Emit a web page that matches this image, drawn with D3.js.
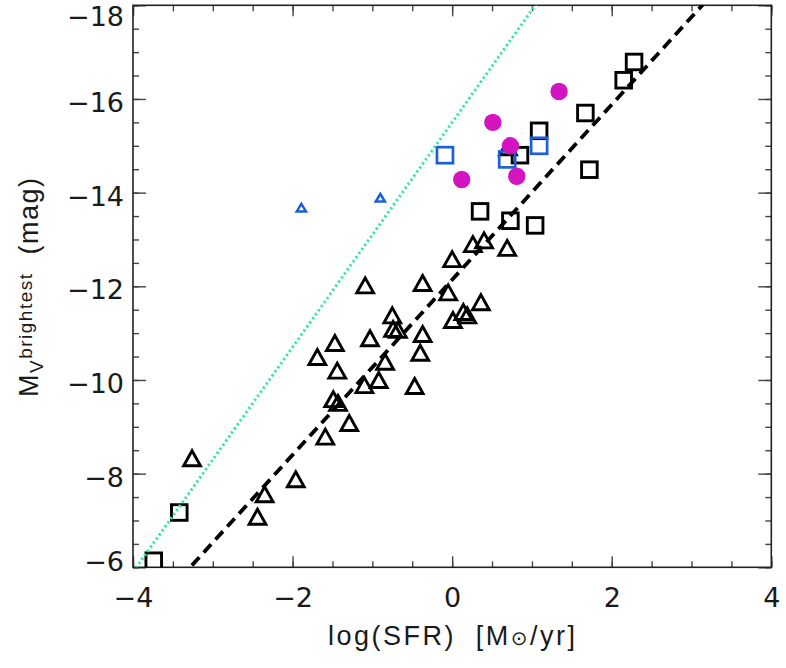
<!DOCTYPE html>
<html>
<head>
<meta charset="utf-8">
<script src="https://cdn.jsdelivr.net/npm/d3@7"></script>
<style>
  body { margin: 0; background: #fff; }
  svg { display: block; }
</style>
</head>
<body>
<svg id="chart"></svg>
<script>
// black triangles
let triSFR = [-3.26, -2.35, -2.44, -1.96, -1.59, -1.29, -1.49, -1.43, -1.69, -1.47, -1.44,
              -1.10, -0.92, -0.84, -1.03, -1.09, -0.75, -0.74, -0.68, -0.47, -0.40, -0.37,
              -0.37, -0.05, 0.00, 0.01, 0.14, 0.19, 0.36, 0.26, 0.40, 0.69, 0.70];
let triMag = [-8.33, -7.56, -7.08, -7.88, -8.79, -9.08, -9.59, -9.51, -10.49, -10.79, -10.20,
              -9.89, -10.00, -10.39, -10.89, -12.02, -11.38, -11.09, -11.07, -9.87, -10.58, -10.98,
              -12.07, -11.87, -12.58, -11.28, -11.45, -11.38, -11.66, -12.90, -12.98, -12.82, -14.97];

// black squares
let sqSFR = [-3.74, -3.42, 0.35, 0.73, 1.04, 0.85, 1.09, 1.67, 1.72, 2.15, 2.28];
let sqMag = [-6.14, -7.17, -13.60, -13.40, -13.30, -14.80, -15.32, -15.70, -14.49, -16.40, -16.79];

// blue squares
let blueSqSFR = [-0.09, 0.69, 1.09];
let blueSqMag = [-14.80, -14.71, -15.00];

// blue small triangles
let blueTriSFR = [-1.89, -0.90];
let blueTriMag = [-13.68, -13.89];

// magenta dots
let dotSFR = [1.34, 0.51, 0.73, 0.12, 0.81];
let dotMag = [-16.16, -15.50, -15.00, -14.28, -14.35];

// relations: M = slope * log(SFR) + zero
let fitSlope = -1.87, fitZero = -12.14;
let upperSlope = -2.40, upperZero = -15.50;

let xTicks = [-4, -2, 0, 2, 4];
let yTicks = [-18, -16, -14, -12, -10, -8, -6];

let svgWidth = 786, svgHeight = 668;
let margin = {top: 5.3, right: 14.7, bottom: 100.7, left: 133};
let width = svgWidth - margin.left - margin.right,
    height = svgHeight - margin.top - margin.bottom;

let x = d3.scaleLinear().domain([-4, 4]).range([0, width]),
    y = d3.scaleLinear().domain([-6, -18]).range([height, 0]);

let minorX = d3.range(-4, 4.01, 0.5), minorY = d3.range(-18, -5.99, 0.5);

let svg = d3.select("#chart")
    .attr("width", svgWidth)
    .attr("height", svgHeight);

let g = svg.append("g")
    .attr("transform", "translate(" + margin.left + "," + margin.top + ")");

g.append("clipPath")
    .attr("id", "plot-clip")
  .append("rect")
    .attr("width", width)
    .attr("height", height);

let titleFont = "'Liberation Sans', Arial, sans-serif";
let tickFont = "'DejaVu Sans', sans-serif";
let fmt = function(d) { return d < 0 ? "\u2212" + Math.abs(d) : "" + d; };

function styleAxis(sel) {
    sel.select(".domain").remove();
    sel.selectAll("line").attr("stroke", "#444").attr("stroke-width", 1.4);
    sel.selectAll("text")
        .attr("font-family", tickFont)
        .attr("font-size", "27px")
        .attr("fill", "#1a1a1a");
}

// bottom axis
g.append("g").attr("transform", "translate(0," + height + ")")
    .call(d3.axisBottom(x).tickValues(minorX).tickSize(-6).tickFormat(""))
    .call(styleAxis);
g.append("g").attr("transform", "translate(0," + height + ")")
    .call(d3.axisBottom(x).tickValues(xTicks).tickSize(-11).tickPadding(21).tickFormat(fmt))
    .call(styleAxis);

// top axis
g.append("g")
    .call(d3.axisTop(x).tickValues(minorX).tickSize(-6).tickFormat(""))
    .call(styleAxis);
g.append("g")
    .call(d3.axisTop(x).tickValues(xTicks).tickSize(-11).tickFormat(""))
    .call(styleAxis);

// left axis; end labels are pushed inside the frame like the original
g.append("g")
    .call(d3.axisLeft(y).tickValues(minorY).tickSize(-6).tickFormat(""))
    .call(styleAxis);
g.append("g")
    .call(d3.axisLeft(y).tickValues(yTicks).tickSize(-13).tickPadding(9).tickFormat(fmt))
    .call(styleAxis)
    .selectAll("text")
    .attr("dy", function(d) {
        if (d === -18) return "20px";
        if (d === -6) return "3px";
        return "12.5px";
    });

// right axis
g.append("g").attr("transform", "translate(" + width + ",0)")
    .call(d3.axisRight(y).tickValues(minorY).tickSize(-6).tickFormat(""))
    .call(styleAxis);
g.append("g").attr("transform", "translate(" + width + ",0)")
    .call(d3.axisRight(y).tickValues(yTicks).tickSize(-13).tickFormat(""))
    .call(styleAxis);

// frame
g.append("rect")
    .attr("width", width)
    .attr("height", height)
    .attr("fill", "none")
    .attr("stroke", "#222")
    .attr("stroke-width", 1.6);

let plot = g.append("g").attr("clip-path", "url(#plot-clip)");

function triPath(hw, hh) {
    return "M0," + (-hh) + "L" + hw + "," + hh + "L" + (-hw) + "," + hh + "Z";
}

// black triangles
plot.selectAll(".tri")
    .data(d3.range(triSFR.length))
    .enter()
    .append("path")
    .attr("class", "tri")
    .attr("d", triPath(8.4, 7.5))
    .attr("transform", function(i) { return "translate(" + x(triSFR[i]) + "," + y(triMag[i]) + ")"; })
    .attr("fill", "none")
    .attr("stroke", "#000")
    .attr("stroke-width", 2.9);

// black squares
plot.selectAll(".sq")
    .data(d3.range(sqSFR.length))
    .enter()
    .append("rect")
    .attr("class", "sq")
    .attr("x", function(i) { return x(sqSFR[i]) - 7.8; })
    .attr("y", function(i) { return y(sqMag[i]) - 7.8; })
    .attr("width", 15.6)
    .attr("height", 15.6)
    .attr("fill", "none")
    .attr("stroke", "#000")
    .attr("stroke-width", 2.9);

// blue squares
plot.selectAll(".bsq")
    .data(d3.range(blueSqSFR.length))
    .enter()
    .append("rect")
    .attr("class", "bsq")
    .attr("x", function(i) { return x(blueSqSFR[i]) - 8; })
    .attr("y", function(i) { return y(blueSqMag[i]) - 8; })
    .attr("width", 16)
    .attr("height", 16)
    .attr("fill", "none")
    .attr("stroke", "#1d5fd8")
    .attr("stroke-width", 2.7);

// blue small triangles
plot.selectAll(".btri")
    .data(d3.range(blueTriSFR.length))
    .enter()
    .append("path")
    .attr("class", "btri")
    .attr("d", triPath(4.6, 3.8))
    .attr("transform", function(i) { return "translate(" + x(blueTriSFR[i]) + "," + y(blueTriMag[i]) + ")"; })
    .attr("fill", "none")
    .attr("stroke", "#1d5fd8")
    .attr("stroke-width", 2.5);

// magenta dots
plot.selectAll(".dot")
    .data(d3.range(dotSFR.length))
    .enter()
    .append("circle")
    .attr("class", "dot")
    .attr("cx", function(i) { return x(dotSFR[i]); })
    .attr("cy", function(i) { return y(dotMag[i]); })
    .attr("r", 8.7)
    .attr("fill", "#d414c0");

// relations
let lineX = [-4, 4];
let fitLine = d3.line()
    .x(function(d) { return x(d); })
    .y(function(d) { return y(fitSlope * d + fitZero); });
let upperLine = d3.line()
    .x(function(d) { return x(d); })
    .y(function(d) { return y(upperSlope * d + upperZero); });

plot.append("path")
    .attr("d", upperLine(lineX))
    .attr("fill", "none")
    .attr("stroke", "#33e89c")
    .attr("stroke-width", 3)
    .attr("stroke-dasharray", "2.2,2.8");

plot.append("path")
    .attr("d", fitLine(lineX))
    .attr("fill", "none")
    .attr("stroke", "#000")
    .attr("stroke-width", 3.8)
    .attr("stroke-dasharray", "11,6.5");

// axis titles
let xTitle = svg.append("text")
    .attr("x", 451.5)
    .attr("y", 645)
    .attr("text-anchor", "middle")
    .attr("font-family", titleFont)
    .attr("font-size", "27px")
    .attr("textLength", 247)
    .attr("lengthAdjust", "spacing")
    .style("white-space", "pre")
    .attr("fill", "#1a1a1a");
xTitle.append("tspan").text("log(SFR)  [M");
xTitle.append("tspan").attr("font-size", "20px").attr("font-family", tickFont).text("\u2299");
xTitle.append("tspan").text("/yr]");

let yTitle = svg.append("text")
    .attr("transform", "translate(38,397) rotate(-90)")
    .attr("font-family", titleFont)
    .attr("font-size", "27px")
    .attr("textLength", 219)
    .attr("lengthAdjust", "spacing")
    .style("white-space", "pre")
    .attr("fill", "#1a1a1a");
yTitle.append("tspan").text("M");
yTitle.append("tspan").attr("font-size", "19px").attr("dy", 5).text("V");
yTitle.append("tspan").attr("font-size", "19px").attr("dy", -11).text("brightest");
yTitle.append("tspan").attr("dy", 6).text("  (mag)");
</script>
</body>
</html>
